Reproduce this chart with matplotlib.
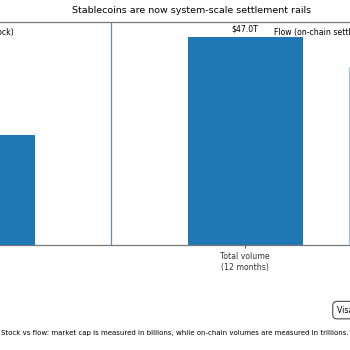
import matplotlib.pyplot as plt
from matplotlib.transforms import blended_transform_factory

# values
stock_label = "Stablecoin\nmarket cap"
stock_value_b = 256          # billions (own scale)
flow_labels = ["Total volume\n(12 months)", "Adjusted volume\n(12 months)"]
flow_values_t = [47.0, 40.1]  # trillions

# positions / styling
stock_x = 0.0
flow_x = [1.0, 1.6]
bar_w = 0.43
blue = "#1f77b4"
light = "#dbe8f3"

fig = plt.figure(figsize=(3.5, 3.5), dpi=100)
# axes wider than the canvas: only the middle of the chart is visible
ax = fig.add_axes([-0.5263, 0.3, 1.9938, 0.637])
ax.set_xlim(-0.6, 2.0)
ax.set_ylim(0, 47.0 * 1.07)

ax.bar(flow_x[0], flow_values_t[0], width=bar_w, color=blue)
ax.bar(flow_x[1], flow_values_t[1], width=bar_w, color=light, edgecolor="#9cc3df", linewidth=0.8)
ax.text(flow_x[0], flow_values_t[0] + 0.6, f"${flow_values_t[0]:.1f}T",
        ha="center", va="bottom", fontsize=5.6)

# stock on its own scale
ax2 = ax.twinx()
ax2.set_ylim(0, 520)
ax2.bar(stock_x, stock_value_b, width=bar_w, color=blue)
ax2.set_yticks([])
for s in ax2.spines.values():
    s.set_visible(False)

ax.axvline(0.5, color="#5f8fb0", linewidth=0.9)

ax.set_xticks([stock_x] + flow_x)
ax.set_xticklabels([stock_label] + flow_labels, fontsize=5.6, linespacing=1.25)
ax.tick_params(axis="x", length=2.5, width=0.6, pad=2.5, colors="#333333")
ax.set_yticks([])
for s in ax.spines.values():
    s.set_color("#777777")
    s.set_linewidth(0.9)

trans = blended_transform_factory(ax.transData, ax.transAxes)
ax.text(0.138, 0.951, "Market cap (stock)", transform=trans, ha="right", va="center", fontsize=5.6)
ax.text(1.108, 0.951, "Flow (on-chain settlement)", transform=trans, ha="left", va="center", fontsize=5.6)

fig.text(0.546, 0.971, "Stablecoins are now system-scale settlement rails",
         ha="center", va="center", fontsize=6.8)
fig.text(0.5, 0.049,
         "Stock vs flow: market cap is measured in billions, while on-chain volumes are measured in trillions.",
         ha="center", va="center", fontsize=5.0)
fig.text(0.963, 0.114, "Visa annual volume", ha="left", va="center", fontsize=5.6,
         bbox=dict(boxstyle="round,pad=0.55", facecolor="white", edgecolor="#333333", linewidth=0.7))

fig.savefig("out.png", dpi=100)
